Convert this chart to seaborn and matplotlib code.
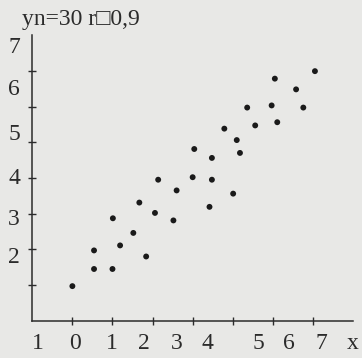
import matplotlib
matplotlib.use("Agg")
import matplotlib.pyplot as plt
import seaborn as sns
import pandas as pd

# points (x axis origin at -1, ticks 0..6; y axis ticks 1..7)
x_vals = [6.05, 5.05, 5.58, 4.36, 4.97, 5.76, 3.79, 4.56, 5.11, 4.10,
          3.04, 4.18, 3.48, 2.14, 3.00, 3.48, 2.60, 4.01, 1.67, 2.06,
          3.42, 1.01, 2.52, 1.52, 0.54, 1.19, 0.54, 1.00, 1.84, 0.00]
y_vals = [6.99, 6.78, 6.48, 5.97, 6.03, 5.97, 5.38, 5.47, 5.56, 5.06,
          4.81, 4.70, 4.56, 3.95, 4.02, 3.95, 3.65, 3.56, 3.31, 3.02,
          3.19, 2.87, 2.81, 2.46, 1.97, 2.11, 1.45, 1.45, 1.80, 0.97]

x_ticks = [0, 1, 2, 3, 4, 5, 6]
y_ticks = [1, 2, 3, 4, 5, 6, 7]

# labels as printed (they sit a bit off the tick marks in the book)
x_label_pos = [-0.85, 0.07, 0.99, 1.79, 2.61, 3.38, 4.63, 5.40, 6.22, 7.0]
x_label_txt = ["1", "0", "1", "2", "3", "4", "5", "6", "7", "x"]
y_label_pos = [7.66, 6.48, 5.21, 3.97, 2.83, 1.76]
y_label_txt = ["7", "6", "5", "4", "3", "2"]
title_txt = "yn=30 r\u25a10,9"

df = pd.DataFrame({"x": x_vals, "y": y_vals})

sns.set_theme(style="white")
plt.rcParams["font.family"] = ["Liberation Serif", "DejaVu Serif"]

bg = "#e8e8e6"
ink = "#2b2b2b"

fig = plt.figure(figsize=(3.62, 3.58), dpi=100, facecolor=bg)
ax = fig.add_axes([0.0892, 0.104, 0.886, 0.798], facecolor=bg)

sns.scatterplot(data=df, x="x", y="y", ax=ax, color="#1a1a1a", s=18,
                edgecolor="none", legend=False)

ax.set_xlim(-1, 7)
ax.set_ylim(0, 8)
ax.set_xticks(x_ticks)
ax.set_yticks(y_ticks)
ax.set_xticklabels([])
ax.set_yticklabels([])
ax.tick_params(bottom=True, left=True, direction="inout", length=6,
               width=1, colors=ink)
ax.set_xlabel("")
ax.set_ylabel("")
for side in ["top", "right"]:
    ax.spines[side].set_visible(False)
for side in ["left", "bottom"]:
    ax.spines[side].set_color(ink)
    ax.spines[side].set_linewidth(1.1)

for p, t in zip(x_label_pos, x_label_txt):
    ax.text(p, -0.63, t, ha="center", va="center", fontsize=17,
            color=ink, clip_on=False)
for p, t in zip(y_label_pos, y_label_txt):
    ax.text(-1.45, p, t, ha="center", va="center", fontsize=17,
            color=ink, clip_on=False)

ax.text(-1.25, 8.45, title_txt, ha="left", va="center", fontsize=17,
        color=ink, clip_on=False)

fig.savefig("out.png", dpi=100, facecolor=bg)
